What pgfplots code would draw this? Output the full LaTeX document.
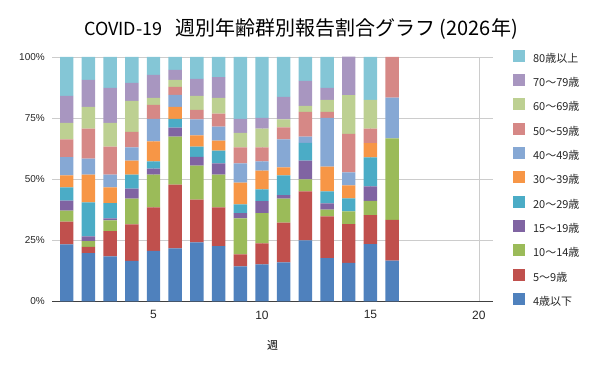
\documentclass[border=0pt]{standalone}
\usepackage{pgfplots}
\pgfplotsset{compat=1.18}
\usepackage{fontspec}
\setmainfont{Liberation Sans}
\newfontfamily\jp{Noto Sans CJK JP}
\definecolor{c1}{HTML}{4F81BD}
\definecolor{c2}{HTML}{C0504D}
\definecolor{c3}{HTML}{9BBB59}
\definecolor{c4}{HTML}{8064A2}
\definecolor{c5}{HTML}{4BACC6}
\definecolor{c6}{HTML}{F79646}
\definecolor{c7}{HTML}{86A8D4}
\definecolor{c8}{HTML}{D68886}
\definecolor{c9}{HTML}{BDD092}
\definecolor{c10}{HTML}{A896C0}
\definecolor{c11}{HTML}{84C6D6}
\begin{document}
\begin{tikzpicture}
\useasboundingbox (0,0) rectangle (600pt,371pt);
\node[font=\jp\fontsize{20}{20}\selectfont, anchor=base, inner sep=0pt] at (301pt,335pt) {{\fontsize{18}{18}\selectfont COVID-19}\hspace{13pt}週別年齢群別報告割合グラフ (2026年)};
\begin{axis}[at={(52pt,69.5pt)}, anchor=south west, scale only axis,
 width=441pt, height=244.5pt,
 xmin=0.32, xmax=20.65, ymin=0, ymax=100,
 ybar stacked, bar width=0.62,
 xtick={5,10,15,20}, ytick={0,25,50,75,100},
 yticklabels={0\%,25\%,50\%,75\%,100\%},
 major tick length=0pt,
 axis x line*=bottom, axis y line*=left,
 y axis line style={draw=none},
 x axis line style={color=black!75, line width=0.8pt, -},
 grid=major, grid style={color=black!20, line width=0.8pt},
 /pgf/number format/assume math mode=true,
 xticklabel style={font=\fontsize{12}{12}\selectfont, text=black!85, inner sep=0pt, yshift=-9pt},
 yticklabel style={font=\fontsize{10}{10}\selectfont, text=black!85, inner sep=0pt, xshift=-7pt},
 xlabel={\jp 週},
 xlabel style={at={(axis description cs:0.5,0)}, anchor=center, yshift=-43.5pt, font=\fontsize{11}{11}\selectfont},
 reverse legend,
 legend image code/.code={\fill[#1] (0pt,-2pt) rectangle (12pt,10pt);},
 legend style={at={(axis description cs:1.045,1.03)}, anchor=north west,
   draw=none, fill=none, inner sep=0pt, row sep=8.3pt, column sep=8pt,
   nodes={inner sep=0pt, text height=8.5pt, text depth=3.5pt, font=\jp\fontsize{11}{11}\selectfont, text=black!85}},
 legend cell align=left,
]
% 4歳以下
\addplot[fill=c1, draw=none] coordinates {(1,23.4) (2,19.8) (3,18.5) (4,16.6) (5,20.7) (6,21.7) (7,24.2) (8,22.6) (9,14.4) (10,15.2) (11,16.0) (12,25.0) (13,17.7) (14,15.8) (15,23.5) (16,16.7)};
% 5~9
\addplot[fill=c2, draw=none] coordinates {(1,9.3) (2,2.5) (3,10.3) (4,14.9) (5,17.8) (6,26.1) (7,17.5) (8,15.9) (9,4.9) (10,8.6) (11,16.3) (12,20.0) (13,17.1) (14,15.8) (15,11.8) (16,16.7)};
% 10~14
\addplot[fill=c3, draw=none] coordinates {(1,4.5) (2,2.4) (3,4.4) (4,10.6) (5,13.4) (6,19.6) (7,13.9) (8,13.4) (9,14.7) (10,12.3) (11,9.8) (12,4.9) (13,2.8) (14,5.3) (15,5.9) (16,33.3)};
% 15~19
\addplot[fill=c4, draw=none] coordinates {(1,4.1) (2,1.9) (3,0.8) (4,4.1) (5,2.4) (6,3.7) (7,3.6) (8,4.6) (9,2.1) (10,4.9) (11,1.4) (12,7.7) (13,2.5) (14,0) (15,5.9) (16,0)};
% 20~29
\addplot[fill=c5, draw=none] coordinates {(1,5.4) (2,13.9) (3,6.2) (4,5.7) (5,3.0) (6,3.6) (7,4.1) (8,5.2) (9,3.6) (10,4.9) (11,8.1) (12,7.3) (13,4.9) (14,5.3) (15,11.8) (16,0)};
% 30~39
\addplot[fill=c6, draw=none] coordinates {(1,4.9) (2,11.4) (3,6.5) (4,5.7) (5,8.2) (6,4.9) (7,4.6) (8,4.1) (9,8.9) (10,7.6) (11,3.3) (12,0) (13,10.2) (14,5.3) (15,5.9) (16,0)};
% 40~49
\addplot[fill=c7, draw=none] coordinates {(1,7.4) (2,6.5) (3,5.2) (4,5.4) (5,9.2) (6,4.9) (7,6.6) (8,5.7) (9,7.9) (10,3.8) (11,11.4) (12,2.5) (13,19.9) (14,5.3) (15,0) (16,16.7)};
% 50~59
\addplot[fill=c8, draw=none] coordinates {(1,7.3) (2,12.3) (3,11.4) (4,6.4) (5,5.7) (6,3.3) (7,3.9) (8,5.3) (9,6.5) (10,5.7) (11,4.9) (12,10.2) (13,2.5) (14,15.8) (15,5.9) (16,16.6)};
% 60~69
\addplot[fill=c9, draw=none] coordinates {(1,6.8) (2,8.9) (3,9.8) (4,12.7) (5,2.9) (6,2.8) (7,5.7) (8,6.5) (9,6.0) (10,7.7) (11,3.3) (12,2.4) (13,4.9) (14,15.8) (15,11.8) (16,0)};
% 70~79
\addplot[fill=c10, draw=none] coordinates {(1,11.0) (2,11.0) (3,14.3) (4,7.3) (5,9.4) (6,4.1) (7,6.9) (8,8.5) (9,5.7) (10,4.4) (11,9.2) (12,10.2) (13,4.9) (14,15.8) (15,0) (16,0)};
% 80以上
\addplot[fill=c11, draw=none] coordinates {(1,15.9) (2,9.4) (3,12.6) (4,10.6) (5,7.3) (6,5.3) (7,9.0) (8,8.2) (9,25.3) (10,24.9) (11,16.3) (12,9.8) (13,12.6) (14,0) (15,17.5) (16,0)};
\legend{4歳以下,5～9歳,10～14歳,15～19歳,20～29歳,30～39歳,40～49歳,50～59歳,60～69歳,70～79歳,80歳以上}
\end{axis}
\end{tikzpicture}
\end{document}
